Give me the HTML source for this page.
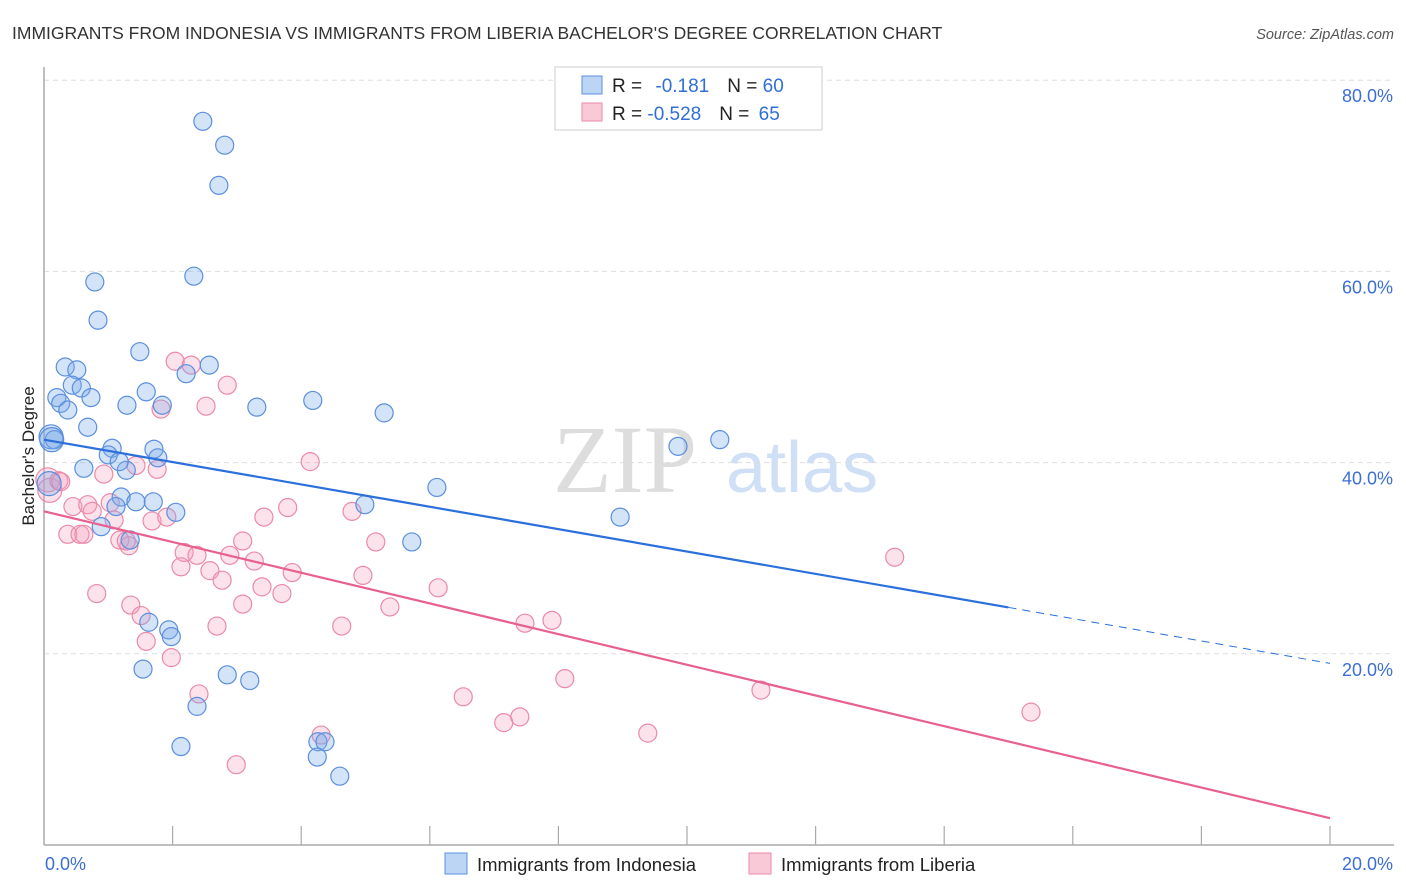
<!DOCTYPE html>
<html><head><meta charset="utf-8">
<style>
body{margin:0;background:#fff;font-family:"Liberation Sans",sans-serif;}
svg{display:block}
</style></head>
<body>
<svg id="chart" width="1406" height="892">
<text x="12" y="39" font-size="17.5" fill="#333">IMMIGRANTS FROM INDONESIA VS IMMIGRANTS FROM LIBERIA BACHELOR'S DEGREE CORRELATION CHART</text>
<text x="1394" y="39" font-size="14.5" fill="#555" font-style="italic" text-anchor="end">Source: ZipAtlas.com</text>
<g>
<text x="625" y="492" font-size="96" fill="#ddd" font-family="Liberation Serif,serif" text-anchor="middle">ZIP</text>
<text x="802" y="492" font-size="72" fill="#cfdff5" text-anchor="middle">atlas</text>
</g>
<g id="grid"></g>
<g id="axes"></g>
<g id="points"></g>
<g id="lines"></g>
<text transform="translate(34,456) rotate(-90)" font-size="17" fill="#222" text-anchor="middle">Bachelor's Degree</text>
<g>
<rect x="555" y="67" width="267" height="63" fill="#fff" stroke="#ccc"/>
<rect x="582" y="76" width="20" height="18" fill="#bcd5f5" stroke="#5b8fde"/>
<rect x="582" y="103" width="20" height="18" fill="#f9c9d8" stroke="#eb8aa8"/>
<text x="612" y="92" font-size="19" fill="#222">R = <tspan fill="#2f6fd6" dx="8">-0.181</tspan><tspan dx="18" fill="#222">N = </tspan><tspan fill="#2f6fd6">60</tspan></text>
<text x="612" y="120" font-size="19" fill="#222">R = <tspan fill="#2f6fd6">-0.528</tspan><tspan dx="18" fill="#222">N = </tspan><tspan fill="#2f6fd6" dx="4">65</tspan></text>
</g>
<g>
<rect x="445" y="853" width="22" height="21" fill="#bcd5f5" stroke="#5b8fde"/>
<text x="477" y="871" font-size="18.5" fill="#222">Immigrants from Indonesia</text>
<rect x="749" y="853" width="22" height="21" fill="#f9c9d8" stroke="#eb8aa8"/>
<text x="781" y="871" font-size="18.5" fill="#222">Immigrants from Liberia</text>
</g>
</svg>
<script>
const blueX=[2.47,2.81,2.72,2.33,0.79,0.84,1.49,0.33,0.51,0.44,0.58,2.57,2.21,1.59,0.20,0.26,0.73,1.29,0.37,1.84,3.31,4.18,5.29,0.68,0.11,0.16,1.06,1.71,1.00,1.77,0.62,1.28,1.17,0.08,1.20,1.43,1.70,1.12,2.05,0.89,1.34,4.99,5.72,6.11,8.96,9.86,10.51,1.63,1.94,1.98,1.54,2.85,3.20,2.38,2.13,4.26,4.37,4.25,4.60,0.12];
const blueY=[75.7,73.2,69.0,59.5,58.9,54.9,51.6,50.0,49.7,48.1,47.8,50.2,49.3,47.4,46.8,46.2,46.8,46.0,45.5,46.0,45.8,46.5,45.2,43.7,42.7,42.4,41.5,41.4,40.8,40.5,39.4,39.2,40.1,37.8,36.4,35.9,35.9,35.4,34.8,33.3,31.9,35.6,31.7,37.4,34.3,41.7,42.4,23.3,22.5,21.8,18.4,17.8,17.2,14.5,10.3,10.8,10.8,9.2,7.2,42.4];
const pinkX=[0.06,0.09,0.23,0.26,0.45,0.68,0.75,0.93,0.37,0.56,0.62,1.03,1.09,1.18,1.32,1.28,1.68,1.91,1.76,1.43,2.04,2.29,1.82,2.52,2.85,4.14,3.79,3.42,4.79,5.16,3.09,2.89,3.27,2.18,2.38,2.13,2.58,2.77,3.86,3.39,3.70,4.96,6.13,5.38,1.35,0.82,1.51,1.59,1.98,2.69,3.09,4.63,7.48,7.90,8.10,6.52,7.15,7.40,11.15,13.23,15.35,9.39,2.41,2.99,4.31];
const pinkY=[38.2,37.1,38.1,38.0,35.4,35.6,34.9,38.8,32.5,32.5,32.5,35.8,34.0,31.9,31.3,31.8,33.9,34.3,39.3,39.7,50.6,50.2,45.6,45.9,48.1,40.1,35.3,34.3,34.9,31.7,31.8,30.3,29.7,30.6,30.3,29.1,28.7,27.7,28.5,27.0,26.3,28.2,26.9,24.9,25.1,26.3,24.0,21.3,19.6,22.9,25.2,22.9,23.2,23.5,17.4,15.5,12.8,13.4,16.2,30.1,13.9,11.7,15.8,8.4,11.5];
const yTicks=[20,40,60,80];
const yTickLabels=["20.0%","40.0%","60.0%","80.0%"];
const xTicks=[0,2,4,6,8,10,12,14,16,18,20];
const xTickLabels=["0.0%","20.0%"];
const blueTrend=[42.4,19.0]; // y at x=0 and x=20
const blueSolidEnd=15.0;
const pinkTrend=[34.9,2.8];

const NS="http://www.w3.org/2000/svg";
const X=v=>44+v*64.3;
const Y=v=>845-v*9.56;
function mk(tag,attrs,parent){const e=document.createElementNS(NS,tag);for(const k in attrs)e.setAttribute(k,attrs[k]);parent.appendChild(e);return e;}
const grid=document.getElementById('grid'),axes=document.getElementById('axes'),pts=document.getElementById('points'),lines=document.getElementById('lines');
yTicks.forEach((t,i)=>{
 const l=mk('line',{x1:44,x2:1394,y1:Y(t),y2:Y(t),stroke:'#ddd','stroke-dasharray':'5,4'},grid);
 
 
 const tx=mk('text',{x:1393,y:Y(t)+22,'font-size':18,fill:'#3b6fd4','text-anchor':'end'},axes);
 tx.textContent=yTickLabels[i];
 
 
});
const ax=mk('line',{x1:44,x2:44,y1:67,y2:845,stroke:'#aaa','stroke-width':1.5},axes);


const bx=mk('line',{x1:44,x2:1394,y1:845,y2:845,stroke:'#aaa','stroke-width':1.5},axes);


xTicks.forEach(t=>{
 if(t===0)return;
 const l=mk('line',{x1:X(t),x2:X(t),y1:826,y2:845,stroke:'#aaa','stroke-width':1.2},axes);
 
 
});
const xl0=mk('text',{x:45,y:870,'font-size':18,fill:'#3b6fd4'},axes);xl0.textContent=xTickLabels[0];


const xl1=mk('text',{x:1393,y:870,'font-size':18,fill:'#3b6fd4','text-anchor':'end'},axes);xl1.textContent=xTickLabels[1];


function dots(xs,ys,fill,stroke,name){
 xs.forEach((x,i)=>{
  const big=(x<0.15);
  const c=mk('circle',{cx:X(x),cy:Y(ys[i]),r:big?12:9,fill:fill,stroke:stroke,'stroke-width':1.2},pts);
  
  
 });
}
dots(pinkX,pinkY,'rgba(244,160,188,0.3)','#eb8aa8','point-liberia');
dots(blueX,blueY,'rgba(120,170,235,0.33)','#5b8fde','point-indonesia');
const by=x=>blueTrend[0]+(blueTrend[1]-blueTrend[0])*x/20;
const l1=mk('line',{x1:X(0),y1:Y(by(0)),x2:X(blueSolidEnd),y2:Y(by(blueSolidEnd)),stroke:'#2a6fdb','stroke-width':2.2},lines);


const l2=mk('line',{x1:X(blueSolidEnd),y1:Y(by(blueSolidEnd)),x2:X(20),y2:Y(by(20)),stroke:'#2a6fdb','stroke-width':1,'stroke-dasharray':'8,6'},lines);


const l3=mk('line',{x1:X(0),y1:Y(pinkTrend[0]),x2:X(20),y2:Y(pinkTrend[1]),stroke:'#e8608f','stroke-width':2.2},lines);


</script>
</body></html>
